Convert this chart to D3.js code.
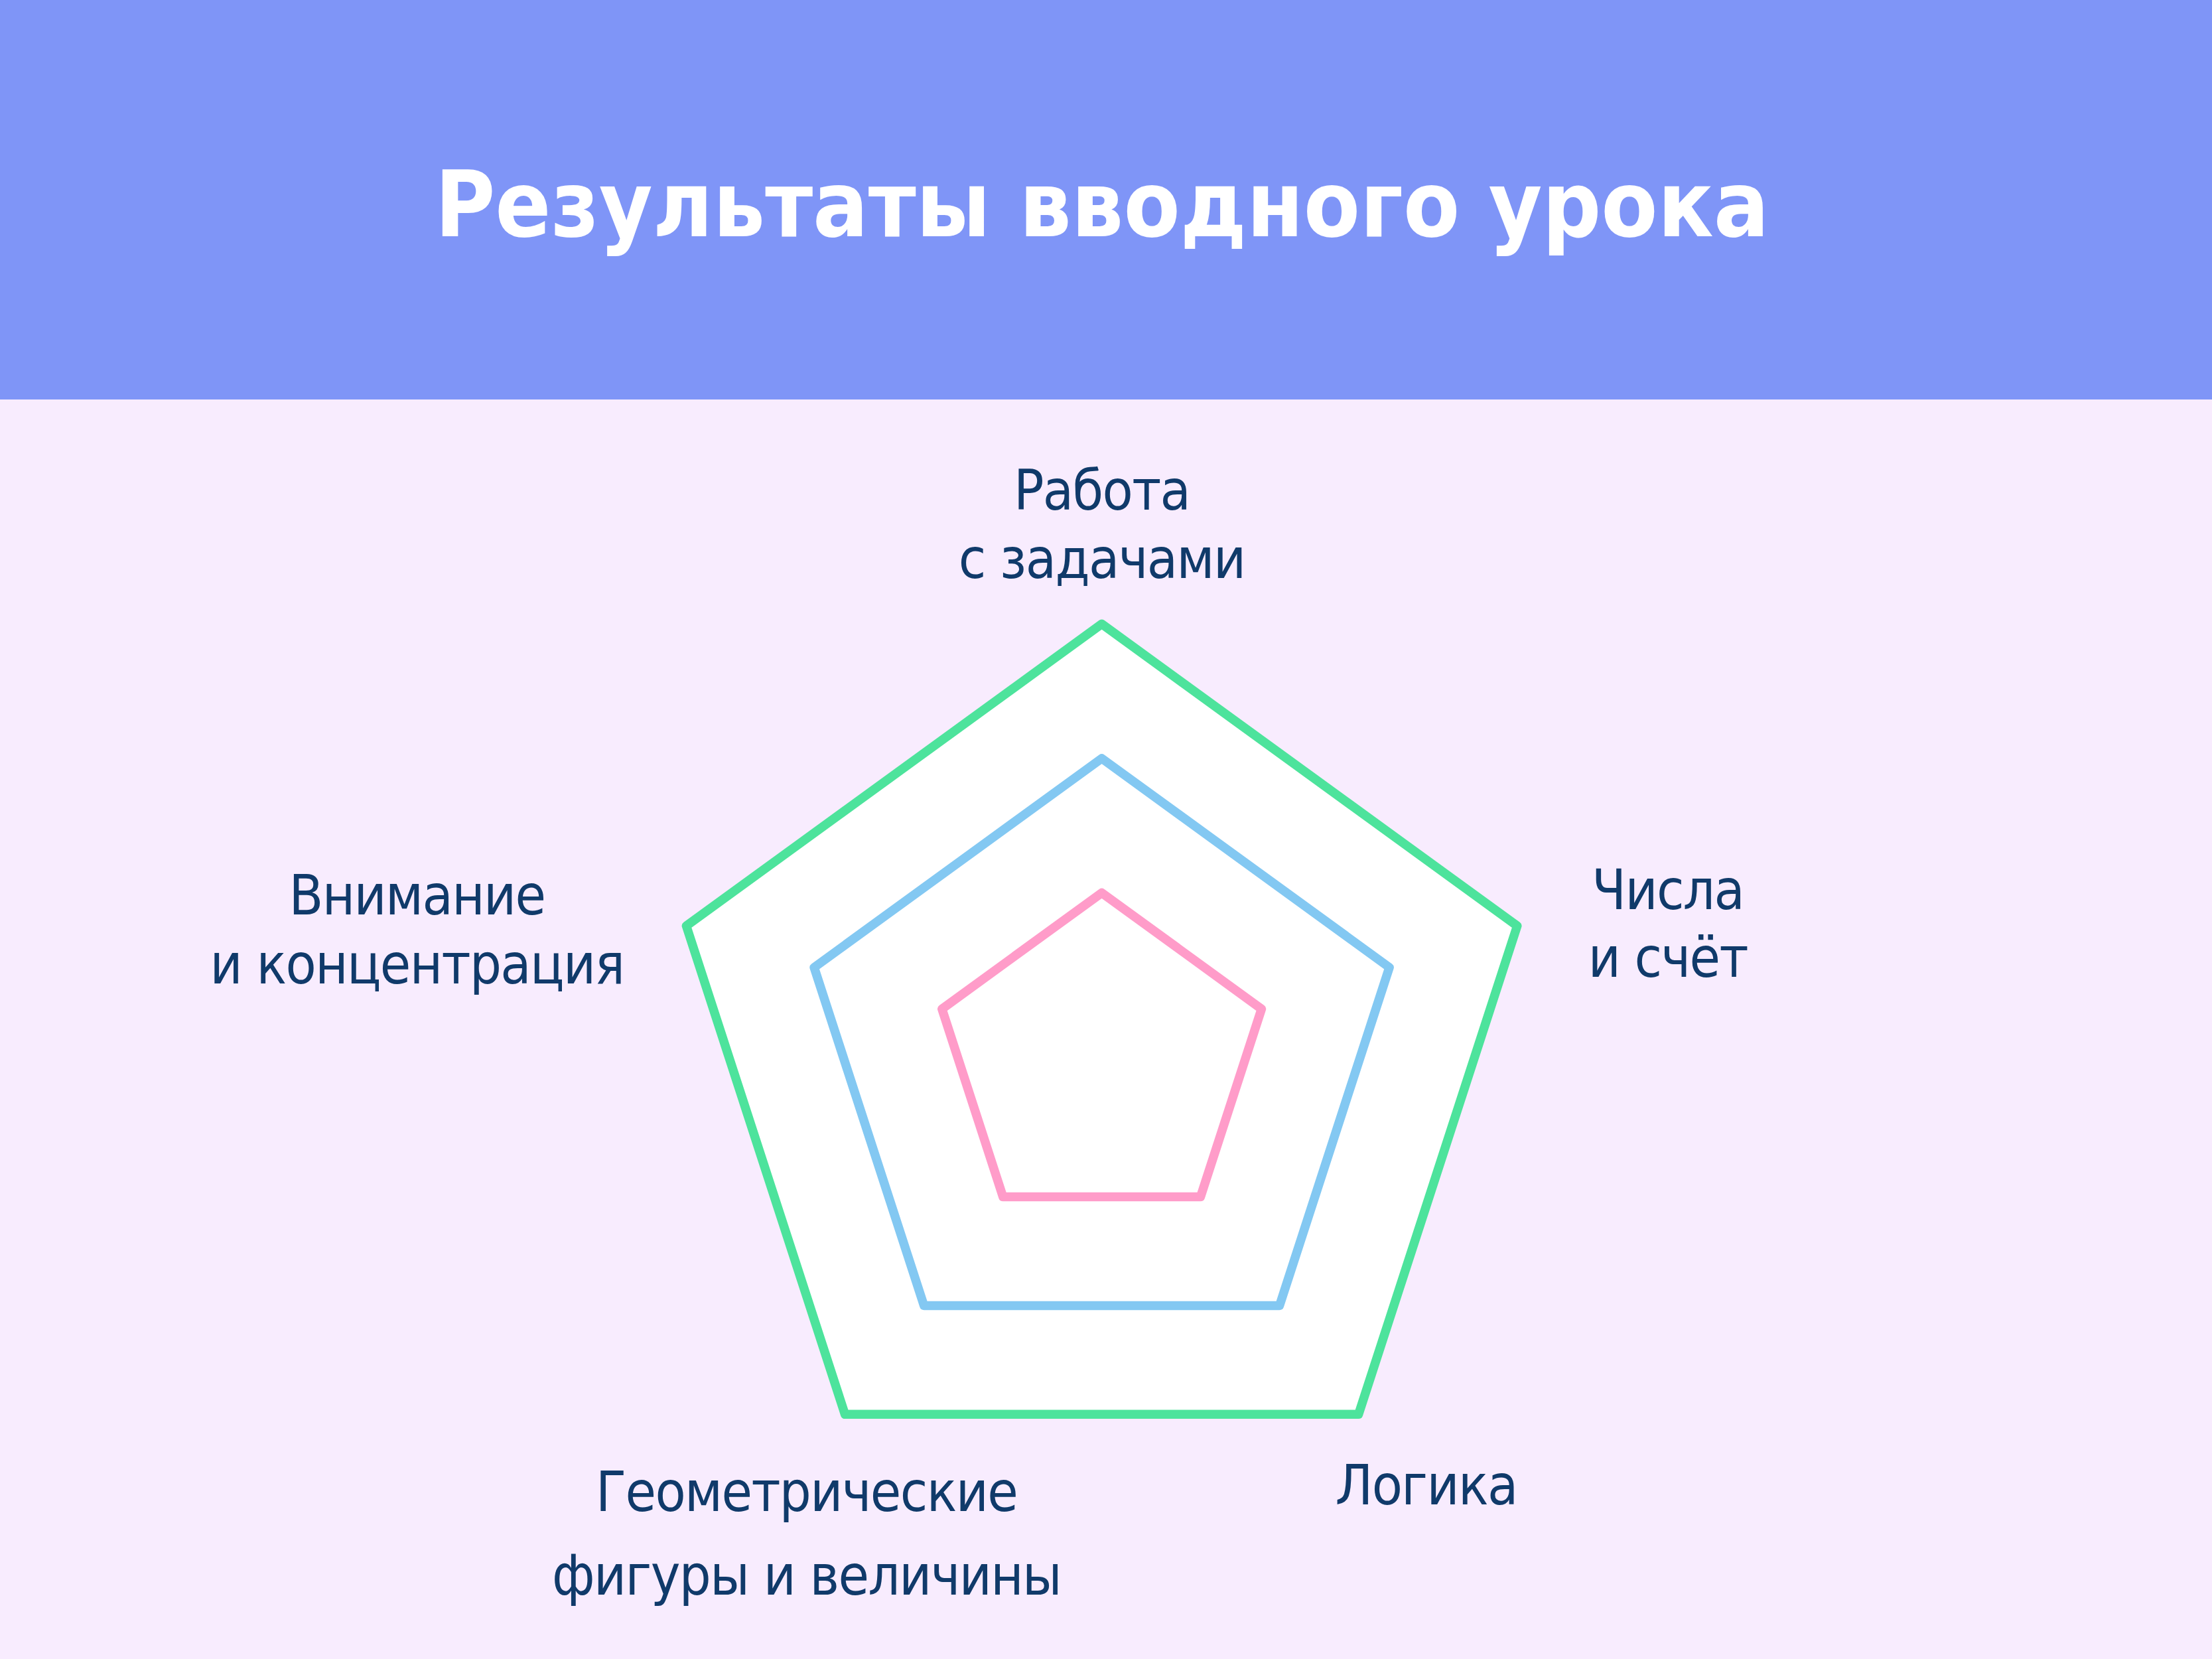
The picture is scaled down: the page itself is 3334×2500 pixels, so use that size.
<!DOCTYPE html>
<html>
<head>
<meta charset="utf-8">
<script src="https://cdn.jsdelivr.net/npm/d3@7"></script>
<style>
  html, body { margin: 0; padding: 0; background: #F8ECFE; }
  svg { display: block; }
</style>
</head>
<body>
<svg id="chart" width="3334" height="2500"></svg>
<script>
// ---- data ----
const title = "Результаты вводного урока";
const axes = [
  ["Работа", "с задачами"],
  ["Числа", "и счёт"],
  ["Логика"],
  ["Геометрические", "фигуры и величины"],
  ["Внимание", "и концентрация"]
];
const seriesNames = ["outer", "middle", "inner"];
const outerValues  = [13, 13, 13, 13, 13];
const middleValues = [9, 9, 9, 9, 9];
const innerValues  = [5, 5, 5, 5, 5];
const radialMax = 13;

// ---- layout / style ----
const W = 3334, H = 2500;
const headerH = 602;
const cx = 1660.6, cy = 1598.7, R = 658.4;
const colors = { outer: "#4DE39C", middle: "#83C8F2", inner: "#FF9CC9" };
const textColor = "#103A6A";
// label block offsets from the outer vertex: [dx to centre, dy to first baseline, line height]
const labelLayout = [
  [0, -172, 103],
  [227, -25, 102],
  [102, 136, 104],
  [-58, 146, 126],
  [-406, -17, 104]
];

const svg = d3.select("#chart");
svg.append("rect").attr("width", W).attr("height", H).attr("fill", "#F8ECFE");
svg.append("rect").attr("width", W).attr("height", headerH).attr("fill", "#7F95F7");

svg.append("text")
  .attr("x", 1661).attr("y", 356)
  .attr("text-anchor", "middle")
  .attr("font-family", "'DejaVu Sans Condensed', 'DejaVu Sans', sans-serif")
  .attr("font-weight", "bold")
  .attr("font-size", 138)
  .attr("fill", "#FFFFFF")
  .text(title);

const r = d3.scaleLinear().domain([0, radialMax]).range([0, R]);
const angle = d3.scaleLinear().domain([0, axes.length]).range([0, 2 * Math.PI]);

const line = d3.lineRadial()
  .angle((d, i) => angle(i))
  .radius(d => r(d))
  .curve(d3.curveLinearClosed);

const g = svg.append("g").attr("transform", `translate(${cx},${cy})`);

const series = [
  { name: "outer", values: outerValues, fill: "#FFFFFF" },
  { name: "middle", values: middleValues, fill: "none" },
  { name: "inner", values: innerValues, fill: "none" }
];

g.selectAll("path.series")
  .data(series)
  .join("path")
  .attr("class", "series")
  .attr("d", d => line(d.values))
  .attr("fill", d => d.fill)
  .attr("stroke", d => colors[d.name])
  .attr("stroke-width", 13.5)
  .attr("stroke-linejoin", "round");

// labels
axes.forEach((lines, i) => {
  const a = angle(i);
  const vx = Math.sin(a) * r(radialMax);
  const vy = -Math.cos(a) * r(radialMax);
  const [dx, dy, lh] = labelLayout[i];
  const t = g.append("text")
    .attr("text-anchor", "middle")
    .attr("font-family", "'DejaVu Sans Condensed', 'DejaVu Sans', sans-serif")
    .attr("font-size", 84)
    .attr("letter-spacing", -1.6)
    .attr("fill", textColor);
  lines.forEach((ln, j) => {
    t.append("tspan")
      .attr("x", vx + dx)
      .attr("y", vy + dy + j * lh)
      .text(ln);
  });
});
</script>
</body>
</html>
